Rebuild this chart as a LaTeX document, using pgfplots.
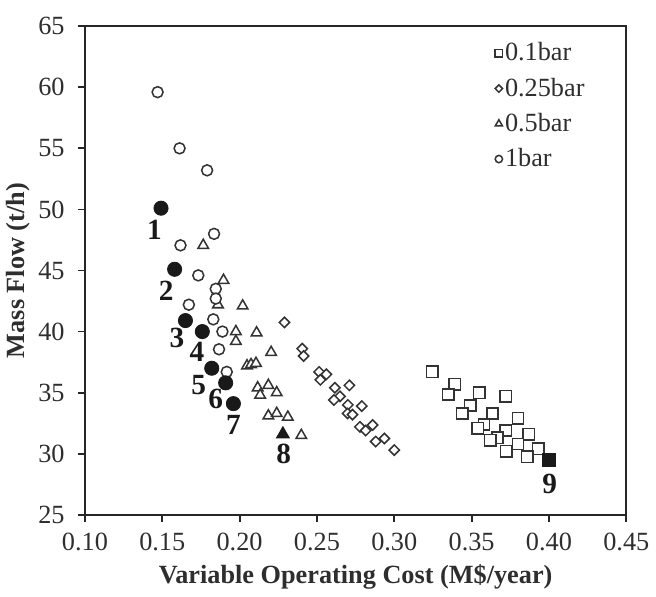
\documentclass[border=0pt]{standalone}
\usepackage{fontspec}
\setmainfont{Liberation Serif}
\usepackage{pgfplots}
\pgfplotsset{compat=1.18}
\definecolor{txt}{HTML}{2E2E2E}
\definecolor{mk}{HTML}{333333}
\begin{document}
\begin{tikzpicture}
\begin{axis}[
  name=main,
  scale only axis, width=267bp, height=241bp,
  xmin=0.10, xmax=0.45, ymin=25, ymax=65,
  axis lines=box,
  xtick={0.10,0.15,0.20,0.25,0.30,0.35,0.40,0.45},
  ytick={25,30,35,40,45,50,55,60,65},
  tick align=outside, tick pos=left, major tick length=3.5bp,
  axis line style={line width=0.9bp, black!85},
  every tick/.style={line width=0.9bp, black!85},
  font=\fontsize{13}{15}\selectfont,
  /pgf/number format/assume math mode=true,
  xticklabel style={yshift=-2bp, /pgf/number format/fixed, /pgf/number format/fixed zerofill, /pgf/number format/precision=2},
  yticklabel style={xshift=-3bp},
  ticklabel style={text=txt},
  xlabel={\textbf{Variable Operating Cost (M\$/year)}},
  ylabel={\textbf{Mass Flow (t/h)}},
  label style={text=txt},
  ylabel shift=-3bp,
  legend style={draw=none, fill=none, at={(rel axis cs:0.757,0.972)}, anchor=north west,
    row sep=4.5bp, font=\fontsize{13}{15}\selectfont, text=txt, inner sep=0pt,
    nodes={inner sep=1.2bp}},
  legend cell align=left,
  legend image code/.code={\draw[#1] plot coordinates {(0bp,0bp)};},
  clip=false,
]
\addplot[only marks, mark=square*, mark size=2.8bp, draw=mk, fill=white, line width=0.75bp,
  legend image post style={mark size=1.8bp}] coordinates {
(0.3245,36.7) (0.339,35.7) (0.335,34.85) (0.355,35.0) (0.372,34.7)
(0.349,33.95) (0.344,33.3) (0.3635,33.3) (0.380,32.9) (0.358,32.4)
(0.354,32.1) (0.372,31.9) (0.3667,31.3) (0.362,31.1) (0.387,31.6)
(0.380,30.8) (0.3725,30.2) (0.393,30.4) (0.386,29.75)
};
\addlegendentry{0.1bar}
\addplot[only marks, mark=square*, mark options={rotate=45}, mark size=1.8bp, draw=mk, fill=white, line width=0.75bp,
  legend image post style={mark size=1.3bp}] coordinates {
(0.229,40.75) (0.2405,38.6) (0.2414,38.0) (0.2514,36.7) (0.2561,36.5)
(0.2522,36.05) (0.271,35.6) (0.2616,35.4) (0.2649,34.7) (0.261,34.4)
(0.270,34.0) (0.279,33.9) (0.2698,33.3) (0.273,33.2) (0.2778,32.2)
(0.2815,31.9) (0.286,32.35) (0.288,31.0) (0.2936,31.25) (0.300,30.3)
};
\addlegendentry{0.25bar}
\addplot[only marks, mark=triangle*, mark size=3.0bp, draw=mk, fill=white, line width=0.75bp,
  legend image post style={mark size=2bp}] coordinates {
(0.1765,47.06) (0.1896,44.2) (0.186,42.2) (0.202,42.1) (0.1976,40.0)
(0.1976,39.2) (0.211,39.9) (0.2204,38.3) (0.2048,37.2) (0.2074,37.3)
(0.2106,37.4) (0.2117,35.4) (0.2186,35.6) (0.2133,34.8) (0.224,35.0)
(0.2186,33.1) (0.224,33.3) (0.2312,33.0) (0.2399,31.5)
};
\addlegendentry{0.5bar}
\addplot[only marks, mark=*, mark size=2.7bp, draw=mk, fill=white, line width=0.75bp,
  legend image post style={mark size=1.8bp}] coordinates {
(0.147,59.6) (0.1612,55.0) (0.179,53.2) (0.1835,48.0) (0.1618,47.06)
(0.1733,44.6) (0.1846,43.5) (0.1846,42.7) (0.1672,42.2) (0.183,41.0)
(0.1889,40.0) (0.1867,38.55) (0.1917,36.7)
};
\addlegendentry{1bar}
% highlighted solutions
\addplot[only marks, mark=*, mark size=3.5bp, draw=black!90, fill=black!90, forget plot] coordinates {
(0.1492,50.1) (0.158,45.1) (0.165,40.9) (0.1759,40.0) (0.182,37.0) (0.191,35.8) (0.196,34.1)
};
\addplot[only marks, mark=triangle*, mark size=3.7bp, draw=black!90, fill=black!90, forget plot] coordinates {
(0.228,31.6)
};
\addplot[only marks, mark=square*, mark size=3.1bp, draw=black!90, fill=black!90, forget plot] coordinates {
(0.400,29.5)
};
\begin{scope}[every node/.style={font=\fontsize{14.5}{16}\selectfont\bfseries, text=black!90}]
\node at (axis cs:0.145,48.3) {1};
\node at (axis cs:0.1525,43.3) {2};
\node at (axis cs:0.1595,39.5) {3};
\node at (axis cs:0.1725,38.3) {4};
\node at (axis cs:0.1735,35.6) {5};
\node at (axis cs:0.1845,34.5) {6};
\node at (axis cs:0.1960,32.4) {7};
\node at (axis cs:0.2285,30.0) {8};
\node at (axis cs:0.4005,27.5) {9};
\end{scope}
\draw[line width=0.9bp, black!85] (rel axis cs:0,0) rectangle (rel axis cs:1,1);
\end{axis}
\path ([yshift=12.9bp]main.north west) circle (0.01pt);
\end{tikzpicture}
\end{document}
